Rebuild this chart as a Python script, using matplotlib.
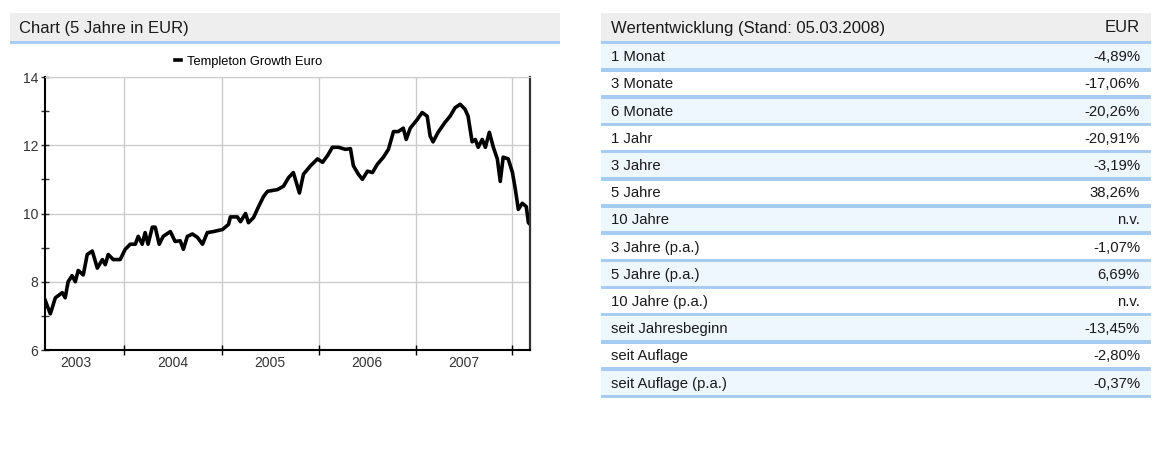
import pandas as pd
import matplotlib.pyplot as plt
from matplotlib.patches import Rectangle

plt.rcParams['font.family'] = ['Liberation Sans', 'DejaVu Sans']

# fund price
dates = ['2003-03-08', '2003-03-28', '2003-04-16', '2003-05-12', '2003-05-23', '2003-06-03',
         '2003-06-18', '2003-06-30', '2003-07-11', '2003-07-30', '2003-08-14', '2003-09-02',
         '2003-09-21', '2003-10-10', '2003-10-21', '2003-11-01', '2003-11-20', '2003-12-16',
         '2004-01-04', '2004-01-23', '2004-02-11', '2004-02-22', '2004-03-08', '2004-03-19',
         '2004-03-30', '2004-04-15', '2004-04-26', '2004-05-11', '2004-05-26', '2004-06-22',
         '2004-07-10', '2004-07-29', '2004-08-10', '2004-08-25', '2004-09-13', '2004-10-02',
         '2004-10-21', '2004-11-08', '2004-12-01', '2005-01-04', '2005-01-27', '2005-02-03',
         '2005-03-01', '2005-03-13', '2005-04-01', '2005-04-12', '2005-05-01', '2005-05-20',
         '2005-06-08', '2005-06-23', '2005-07-30', '2005-08-22', '2005-09-10', '2005-09-28',
         '2005-10-21', '2005-11-05', '2005-12-02', '2005-12-28', '2006-01-16', '2006-02-04',
         '2006-02-22', '2006-03-17', '2006-04-12', '2006-05-01', '2006-05-12', '2006-05-31',
         '2006-06-15', '2006-07-04', '2006-07-23', '2006-08-10', '2006-09-02', '2006-09-21',
         '2006-10-10', '2006-10-28', '2006-11-16', '2006-11-27', '2006-12-12', '2007-01-08',
         '2007-01-26', '2007-02-14', '2007-02-25', '2007-03-08', '2007-03-27', '2007-04-22',
         '2007-05-11', '2007-05-30', '2007-06-18', '2007-07-06', '2007-07-18', '2007-08-02',
         '2007-08-14', '2007-08-25', '2007-09-09', '2007-09-21', '2007-10-06', '2007-10-21',
         '2007-11-05', '2007-11-16', '2007-11-27', '2007-12-16', '2008-01-01', '2008-01-12',
         '2008-01-23', '2008-02-07', '2008-02-22', '2008-03-01', '2008-03-05']
prices = [7.47, 7.06, 7.53, 7.68, 7.53, 8.00,
          8.18, 8.00, 8.33, 8.20, 8.80, 8.90,
          8.40, 8.65, 8.50, 8.80, 8.65, 8.65,
          8.95, 9.10, 9.10, 9.33, 9.10, 9.44,
          9.10, 9.60, 9.60, 9.10, 9.33, 9.47,
          9.18, 9.20, 8.95, 9.33, 9.40, 9.30,
          9.10, 9.44, 9.47, 9.53, 9.68, 9.90,
          9.90, 9.76, 10.00, 9.73, 9.88, 10.20,
          10.50, 10.65, 10.70, 10.80, 11.05, 11.20,
          10.60, 11.15, 11.40, 11.60, 11.50, 11.70,
          11.94, 11.94, 11.88, 11.90, 11.40, 11.15,
          11.00, 11.24, 11.20, 11.44, 11.65, 11.88,
          12.40, 12.40, 12.50, 12.17, 12.50, 12.76,
          12.96, 12.85, 12.27, 12.10, 12.38, 12.67,
          12.85, 13.10, 13.20, 13.06, 12.85, 12.10,
          12.17, 11.94, 12.17, 11.94, 12.38, 11.94,
          11.60, 10.94, 11.65, 11.60, 11.20, 10.70,
          10.12, 10.30, 10.20, 9.73, 9.70]
fund_name = 'Templeton Growth Euro'
year_labels = ['2003', '2004', '2005', '2006', '2007']

periods = ['1 Monat', '3 Monate', '6 Monate', '1 Jahr', '3 Jahre', '5 Jahre', '10 Jahre',
           '3 Jahre (p.a.)', '5 Jahre (p.a.)', '10 Jahre (p.a.)', 'seit Jahresbeginn',
           'seit Auflage', 'seit Auflage (p.a.)']
returns = ['-4,89%', '-17,06%', '-20,26%', '-20,91%', '-3,19%', '38,26%', 'n.v.',
           '-1,07%', '6,69%', 'n.v.', '-13,45%', '-2,80%', '-0,37%']

W, H = 1165, 473
GRAY = '#eeeeee'
BLUE = '#a6cdf1'
ROW_BG = '#eef6fe'
TXT = '#1a1a1a'

fig = plt.figure(figsize=(W / 100, H / 100), dpi=100)

# background layer in pixel coordinates for the header bands and table
bg = fig.add_axes([0, 0, 1, 1], zorder=0)
bg.set_xlim(0, W)
bg.set_ylim(H, 0)
bg.axis('off')

# chart header
bg.add_patch(Rectangle((10, 13), 550, 28, color=GRAY, lw=0))
bg.add_patch(Rectangle((10, 41), 550, 3.5, color=BLUE, lw=0))
bg.text(19, 28, 'Chart (5 Jahre in EUR)', fontsize=12, va='center', color=TXT)

# table
tx0, tx1 = 601, 1151
bg.add_patch(Rectangle((tx0, 13), tx1 - tx0, 28, color=GRAY, lw=0))
bg.add_patch(Rectangle((tx0, 41), tx1 - tx0, 3.5, color=BLUE, lw=0))
bg.text(611, 28, 'Wertentwicklung (Stand: 05.03.2008)', fontsize=12, va='center', color=TXT)
bg.text(1140, 28, 'EUR', fontsize=12, va='center', ha='right', color=TXT)

row_h = 27.2
for i, (p, r) in enumerate(zip(periods, returns)):
    top = 44.5 + i * row_h
    if i % 2 == 0:
        bg.add_patch(Rectangle((tx0, top), tx1 - tx0, row_h - 3, color=ROW_BG, lw=0))
    bg.add_patch(Rectangle((tx0, top + row_h - 3.5), tx1 - tx0, 3.5, color=BLUE, lw=0))
    yc = top + (row_h - 3.5) / 2 + 0.8
    bg.text(611, yc, p, fontsize=10.7, va='center', color=TXT)
    bg.text(1140, yc, r, fontsize=10.7, va='center', ha='right', color=TXT)

# line chart
x = pd.to_datetime(dates)
ax = fig.add_axes([45 / W, 1 - 350 / H, (530 - 45) / W, (350 - 77) / H], zorder=1)
ax.patch.set_alpha(0)
ax.plot(x, prices, color='black', lw=2.6, label=fund_name)

ax.set_ylim(6, 14)
ax.set_xlim(pd.Timestamp('2003-03-08'), pd.Timestamp('2008-03-07'))
ax.set_yticks([6, 8, 10, 12, 14])
ax.set_yticks([7, 9, 11, 13], minor=True)

year_starts = pd.to_datetime(['2004-01-01', '2005-01-01', '2006-01-01', '2007-01-01', '2008-01-01'])
mid_years = pd.to_datetime([y + '-07-02' for y in year_labels])
ax.set_xticks(year_starts)
ax.set_xticklabels([])
ax.set_xticks(mid_years, minor=True)
ax.set_xticklabels(year_labels, minor=True)

ax.grid(True, which='major', color='#cccccc', lw=1)
ax.tick_params(axis='y', which='both', direction='inout', length=6, width=1, labelsize=10,
               colors='#333333', pad=2)
ax.tick_params(axis='x', which='major', direction='inout', length=7, width=1)
ax.tick_params(axis='x', which='minor', length=0, labelsize=10, colors='#333333', pad=4)

ax.spines['left'].set_linewidth(1.5)
ax.spines['bottom'].set_linewidth(1.5)
ax.spines['right'].set_color('#333333')
ax.spines['right'].set_linewidth(1.6)
ax.spines['top'].set_color('#cccccc')

ax.legend(loc='lower center', bbox_to_anchor=(0.42, 1.0), frameon=False, fontsize=9.3,
          handlelength=0.45, handletextpad=0.5, borderaxespad=0.3)

plt.savefig('out.png', dpi=100)
